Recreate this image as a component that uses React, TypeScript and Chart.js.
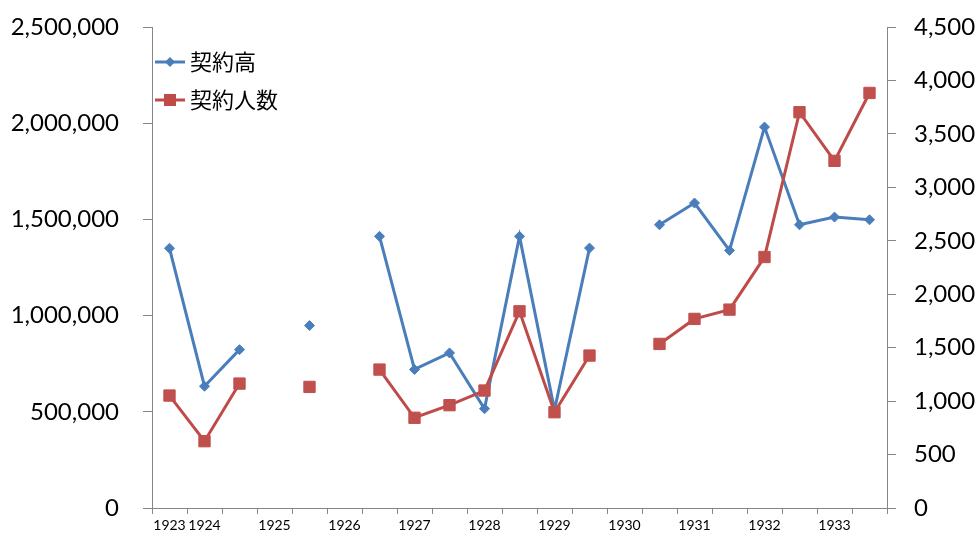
import React, { useEffect, useRef } from 'react';
import { Chart, registerables } from 'chart.js';

Chart.register(...registerables);

// ---- data ----
const categories: string[] = [
  '1923', '1924', '', '1925', '', '1926', '', '1927', '', '1928', '',
  '1929', '', '1930', '', '1931', '', '1932', '', '1933', '',
];
const seriesNames: string[] = ['契約高', '契約人数'];
const contractAmount: (number | null)[] = [
  1350000, 633000, 823000, null, 948000, null, 1412000, 720000, 806000, 516000, 1412000,
  510000, 1351000, null, 1472000, 1585000, 1339000, 1980000, 1472000, 1512000, 1498000,
];
const contractPeople: (number | null)[] = [
  1052, 625, 1164, null, 1133, null, 1295, 844, 962, 1099, 1840,
  896, 1426, null, 1535, 1769, 1856, 2348, 3703, 3248, 3883,
];
const leftTicks = { min: 0, max: 2500000, step: 500000 };
const rightTicks = { min: 0, max: 4500, step: 500 };

const BLUE = '#4A7EBB';
const RED = '#BE4B48';
const AXIS = '#868686';

const fmt = (v: number | string) => Number(v).toLocaleString('en-US');

const insideLegend = {
  id: 'insideLegend',
  afterDraw(chart: any) {
    const { ctx, chartArea } = chart;
    const x0 = chartArea.left + 3;
    const y0 = chartArea.top + 35;
    const gap = 38;
    const items = [
      { text: seriesNames[0], color: BLUE, style: 'diamond' },
      { text: seriesNames[1], color: RED, style: 'square' },
    ];
    ctx.save();
    items.forEach((it, i) => {
      const y = y0 + i * gap;
      ctx.strokeStyle = it.color;
      ctx.lineWidth = 3;
      ctx.beginPath();
      ctx.moveTo(x0, y);
      ctx.lineTo(x0 + 30, y);
      ctx.stroke();
      ctx.fillStyle = it.color;
      const cx = x0 + 15;
      ctx.beginPath();
      if (it.style === 'diamond') {
        const r = 5;
        ctx.moveTo(cx - r, y);
        ctx.lineTo(cx, y - r);
        ctx.lineTo(cx + r, y);
        ctx.lineTo(cx, y + r);
        ctx.closePath();
      } else {
        const s = 6;
        ctx.rect(cx - s, y - s, 2 * s, 2 * s);
      }
      ctx.fill();
      ctx.fillStyle = '#000';
      ctx.font = '22px "Noto Sans CJK JP"';
      ctx.textBaseline = 'middle';
      ctx.textAlign = 'left';
      ctx.fillText(it.text, x0 + 35, y);
    });
    ctx.restore();
  },
};

export default function App() {
  const ref = useRef<HTMLCanvasElement | null>(null);
  useEffect(() => {
    if (!ref.current) return;
    Chart.defaults.font.family = 'Lato';
    Chart.defaults.color = '#000';
    const fixV = (w: number) => (s: any) => {
      s.width = w;
      s.paddingTop = 0;
      s.paddingBottom = 0;
    };
    const chart = new Chart(ref.current, {
      type: 'line',
      data: {
        labels: categories,
        datasets: [
          {
            label: seriesNames[0],
            data: contractAmount,
            yAxisID: 'yLeft',
            borderColor: BLUE,
            backgroundColor: BLUE,
            borderWidth: 3,
            pointStyle: 'rectRot',
            pointRadius: 5,
            pointBorderWidth: 1,
            pointBorderColor: BLUE,
            pointBackgroundColor: BLUE,
            spanGaps: false,
            tension: 0,
            order: 1,
          },
          {
            label: seriesNames[1],
            data: contractPeople,
            yAxisID: 'yRight',
            borderColor: RED,
            backgroundColor: '#C0504D',
            borderWidth: 3,
            pointStyle: 'rect',
            pointRadius: 8,
            pointBorderWidth: 1,
            pointBorderColor: '#C0504D',
            pointBackgroundColor: '#C0504D',
            spanGaps: false,
            tension: 0,
            order: 0,
          },
        ],
      },
      options: {
        responsive: false,
        animation: false,
        devicePixelRatio: 1,
        layout: { padding: { top: 27, left: 0, right: 0, bottom: 0 } },
        plugins: {
          legend: { display: false },
          tooltip: { enabled: false },
        },
        scales: {
          x: {
            type: 'category',
            offset: true,
            grid: {
              display: true,
              drawOnChartArea: false,
              drawTicks: true,
              tickLength: 6,
              color: AXIS,
              offset: true,
            },
            border: { display: true, color: AXIS, width: 1 },
            ticks: {
              autoSkip: false,
              maxRotation: 0,
              minRotation: 0,
              padding: 3,
              font: { size: 14, family: 'Lato' },
              color: '#000',
            },
            afterFit: (s: any) => { s.height = 28; },
          },
          yLeft: {
            type: 'linear',
            position: 'left',
            min: leftTicks.min,
            max: leftTicks.max,
            ticks: {
              stepSize: leftTicks.step,
              callback: (v: any) => fmt(v),
              padding: 24,
              font: { size: 24, family: 'Lato' },
              color: '#000',
            },
            grid: {
              display: true,
              drawOnChartArea: false,
              drawTicks: true,
              tickLength: 9,
              color: AXIS,
            },
            border: { display: true, color: AXIS, width: 1 },
            afterFit: fixV(152),
          },
          yRight: {
            type: 'linear',
            position: 'right',
            min: rightTicks.min,
            max: rightTicks.max,
            ticks: {
              stepSize: rightTicks.step,
              callback: (v: any) => fmt(v),
              padding: 18,
              font: { size: 24, family: 'Lato' },
              color: '#000',
            },
            grid: {
              display: true,
              drawOnChartArea: false,
              drawTicks: true,
              tickLength: 9,
              color: AXIS,
            },
            border: { display: true, color: AXIS, width: 1 },
            afterFit: fixV(92),
          },
        },
      },
      plugins: [insideLegend],
    } as any);
    return () => chart.destroy();
  }, []);

  return (
    <div style={{ position: 'fixed', left: 0, top: 0, width: 979, height: 536, background: '#fff' }}>
      <canvas ref={ref} width={979} height={536} style={{ display: 'block' }} />
    </div>
  );
}
